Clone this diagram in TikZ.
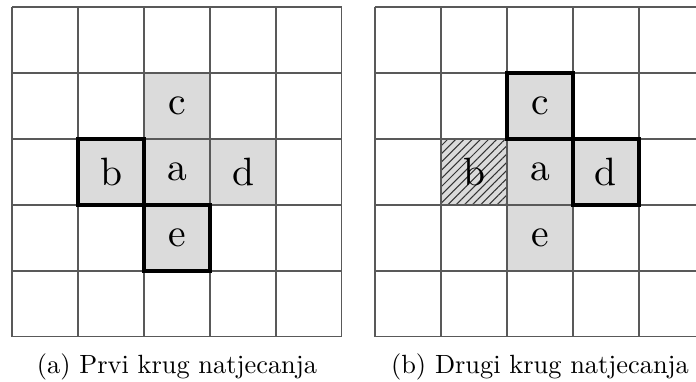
\documentclass[tikz,border=0pt]{standalone}
\usepackage{graphicx}
\usepackage{tikz}
\usetikzlibrary{patterns.meta}
\definecolor{cellgray}{gray}{0.86}
\definecolor{gridgray}{gray}{0.35}
\newcommand{\celltxt}[1]{\scalebox{1.5}{#1}}

\begin{document}
\begin{tikzpicture}[x=0.88cm,y=0.88cm,
  cell/.style={minimum size=0.88cm,inner sep=0pt,outer sep=0pt,fill=cellgray},
  edge/.style={line width=1.2pt,black},
  hatch/.style={preaction={fill=cellgray},pattern={Lines[angle=45,distance=2.2pt,line width=0.4pt]},pattern color=black!80}]
  \useasboundingbox (-0.182,-0.682) rectangle (10.364,5.106);
  % prvi krug
  \node[cell] (a1) at (2.5,2.5) {\celltxt{a}};
  \node[cell] (b1) at (1.5,2.5) {\celltxt{b}};
  \node[cell] (c1) at (2.5,3.5) {\celltxt{c}};
  \node[cell] (d1) at (3.5,2.5) {\celltxt{d}};
  \node[cell] (e1) at (2.5,1.5) {\celltxt{e}};
  \draw[gridgray,line width=0.4pt,step=0.88cm] (0,0) grid (5,5);
  \draw[edge] (b1.south west) rectangle (b1.north east);
  \draw[edge] (e1.south west) rectangle (e1.north east);
  \node (capa) at (2.5,-0.45) {(a) Prvi krug natjecanja};
  % drugi krug
  \begin{scope}[shift={(5.5,0)}]
    \node[cell] (a2) at (2.5,2.5) {\celltxt{a}};
    \node[cell,hatch] (b2) at (1.5,2.5) {\celltxt{b}};
    \node[cell] (c2) at (2.5,3.5) {\celltxt{c}};
    \node[cell] (d2) at (3.5,2.5) {\celltxt{d}};
    \node[cell] (e2) at (2.5,1.5) {\celltxt{e}};
    \draw[gridgray,line width=0.4pt,step=0.88cm] (0,0) grid (5,5);
    \draw[edge] (c2.south west) rectangle (c2.north east);
    \draw[edge] (d2.south west) rectangle (d2.north east);
    \node (capb) at (2.5,-0.45) {(b) Drugi krug natjecanja};
  \end{scope}
\end{tikzpicture}
\end{document}
